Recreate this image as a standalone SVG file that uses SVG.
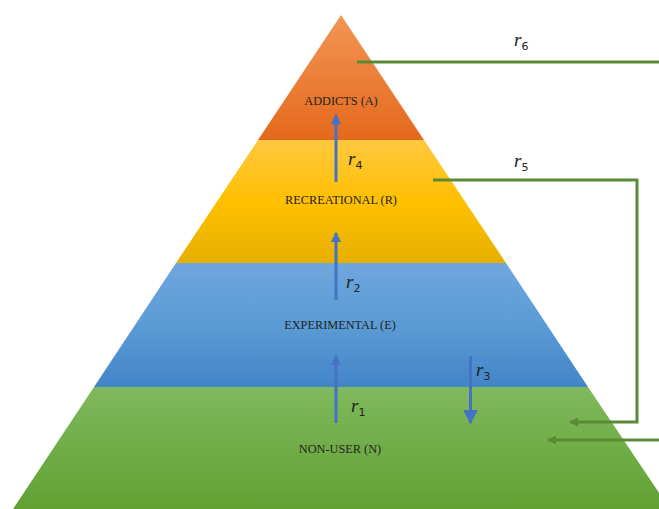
<svg xmlns="http://www.w3.org/2000/svg" width="659" height="509" viewBox="0 0 659 509">
<defs>
<linearGradient id="gO" x1="0" y1="0" x2="0" y2="1"><stop offset="0" stop-color="#F29655"/><stop offset="1" stop-color="#E4691C"/></linearGradient>
<linearGradient id="gY" x1="0" y1="0" x2="0" y2="1"><stop offset="0" stop-color="#FFC840"/><stop offset="0.5" stop-color="#FFC000"/><stop offset="1" stop-color="#E6B000"/></linearGradient>
<linearGradient id="gB" x1="0" y1="0" x2="0" y2="1"><stop offset="0" stop-color="#70A6DD"/><stop offset="0.5" stop-color="#5B9BD5"/><stop offset="1" stop-color="#4285C8"/></linearGradient>
<linearGradient id="gG" x1="0" y1="0" x2="0" y2="1"><stop offset="0" stop-color="#80B95D"/><stop offset="0.5" stop-color="#70AD47"/><stop offset="1" stop-color="#63A032"/></linearGradient>
<marker id="ab" viewBox="0 0 10 10" refX="9" refY="5" markerWidth="10" markerHeight="10" markerUnits="userSpaceOnUse" orient="auto"><path d="M0,0 L10,5 L0,10 Z" fill="#4472C4"/></marker>
<marker id="ab2" viewBox="0 0 10 10" refX="9" refY="5" markerWidth="15" markerHeight="15" markerUnits="userSpaceOnUse" orient="auto" preserveAspectRatio="none"><path d="M0,0 L10,5 L0,10 Z" fill="#4472C4"/></marker>
<marker id="ag" viewBox="0 0 10 10" refX="9" refY="5" markerWidth="9" markerHeight="9" markerUnits="userSpaceOnUse" orient="auto"><path d="M0,0 L10,5 L0,10 Z" fill="#5A8A36"/></marker>
</defs>
<style>
.lbl{font-family:"Liberation Serif",serif;font-size:12.3px;fill:#222;text-anchor:middle}
.m{font-family:"Liberation Serif",serif;font-style:italic;font-size:19px;fill:#222}
.s{font-family:"DejaVu Sans",sans-serif;font-size:11px;font-style:normal}
.blue{stroke:#4472C4;stroke-width:3;fill:none}
.green{stroke:#5A8A36;stroke-width:3;fill:none}
</style>
<rect width="659" height="509" fill="#FFFFFF"/>
<g id="addicts">
<polygon points="341,15 424,140 258,140" fill="url(#gO)"/>
<text class="lbl" x="341" y="105">ADDICTS (A)</text>
</g>
<g id="recreational">
<polygon points="258,140 424,140 506,263 176,263" fill="url(#gY)"/>
<text class="lbl" x="341" y="204">RECREATIONAL (R)</text>
</g>
<g id="experimental">
<polygon points="176,263 506,263 588,387 94,387" fill="url(#gB)"/>
<text class="lbl" x="340" y="329">EXPERIMENTAL (E)</text>
</g>
<g id="nonuser">
<polygon points="94,387 588,387 670,509 13,509" fill="url(#gG)"/>
<text class="lbl" x="340" y="453">NON-USER (N)</text>
</g>
<g id="connectors">
<line class="blue" x1="336" y1="423" x2="336" y2="356" marker-end="url(#ab)"/>
<line class="blue" x1="336" y1="300" x2="336" y2="233" marker-end="url(#ab)"/>
<line class="blue" x1="336" y1="182" x2="336" y2="115" marker-end="url(#ab)"/>
<line class="blue" x1="470.5" y1="356" x2="470.5" y2="423" marker-end="url(#ab2)"/>
<polyline class="green" points="433,180 637,180 637,422 570,422" marker-end="url(#ag)"/>
<polyline class="green" points="357,62 662,62"/>
<polyline class="green" points="662,440 548,440" marker-end="url(#ag)"/>
</g>
<g id="labels">
<text class="m" x="514" y="46">r<tspan class="s" dy="4">6</tspan></text>
<text class="m" x="514" y="167">r<tspan class="s" dy="4">5</tspan></text>
<text class="m" x="348" y="165">r<tspan class="s" dy="4">4</tspan></text>
<text class="m" x="346" y="288">r<tspan class="s" dy="4">2</tspan></text>
<text class="m" x="476" y="376">r<tspan class="s" dy="4">3</tspan></text>
<text class="m" x="351" y="412">r<tspan class="s" dy="4">1</tspan></text>
</g>
</svg>
